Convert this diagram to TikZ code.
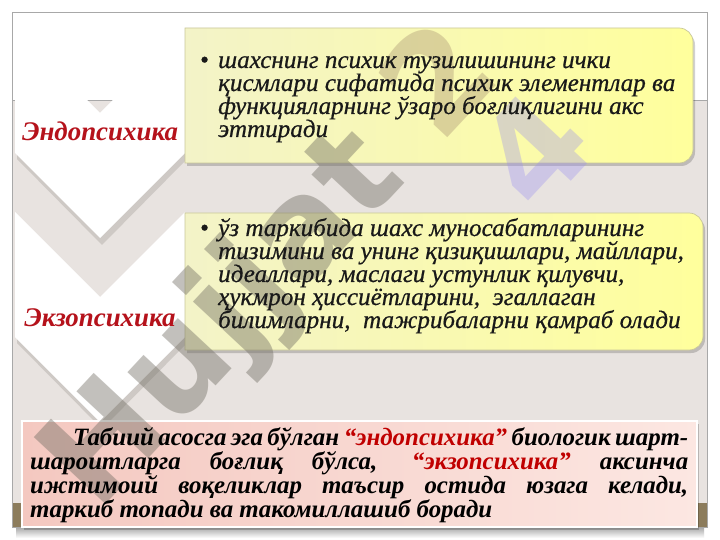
\documentclass[tikz,border=0pt]{standalone}
\usepackage{fontspec}
\setmainfont{Liberation Serif}
\newfontfamily\boxfont[FakeBold=0.6]{Liberation Serif}
\newfontfamily\wmfont{DejaVu Sans}
\usetikzlibrary{shadings}
\definecolor{bggray}{HTML}{E8E3E0}
\definecolor{framegray}{HTML}{A8A8A8}
\definecolor{brownbar}{HTML}{8C7C5C}
\definecolor{lblred}{HTML}{B5121B}
\definecolor{txtred}{HTML}{C00000}
\definecolor{boxleft}{HTML}{F3F3C8}
\definecolor{boxright}{HTML}{FFFF9C}
\definecolor{boxedge}{HTML}{C9C79A}
\definecolor{pinkleft}{HTML}{F4C8C0}
\definecolor{pinkright}{HTML}{FCE7E2}
\definecolor{chevshadow}{HTML}{BDB8B4}
\definecolor{wmgray}{HTML}{6E6A60}
\definecolor{wmtan}{HTML}{B09C78}
\definecolor{wmlav}{HTML}{9C90F0}
\tikzset{
  chev/.style={fill=white, draw=none},
  chevsh/.style={fill=chevshadow, draw=none, opacity=0.6},
  ybox/.style={left color=boxleft, right color=boxright, draw=boxedge, line width=0.7bp},
  yboxsh/.style={fill=black, opacity=0.18, draw=none},
  pbox/.style={left color=pinkleft, right color=pinkright, draw=white, line width=2bp},
  lbl/.style={font=\fontsize{27}{27}\selectfont\bfseries\itshape, text=lblred, inner sep=0},
  btxt/.style={font=\boxfont\fontsize{25.2}{23}\selectfont\itshape, text=black!90, anchor=base west, inner sep=0},
  ptxt/.style={font=\fontsize{25}{24}\selectfont\bfseries\itshape, anchor=base west, inner sep=0},
  wm/.style={font=\wmfont\bfseries\fontsize{135}{135}\selectfont, text=wmgray, opacity=0.42, inner sep=0},
}
\begin{document}
\begin{tikzpicture}[x=1bp,y=-1bp]
\useasboundingbox (0,0) rectangle (720,540);
\fill[white] (0,0) rectangle (720,540);
% frame and background
\shade[top color=black!35, bottom color=white] (16,527) rectangle (704,538);
\fill[bggray] (12,100) rectangle (707,527);
\fill[brownbar] (12,503) rectangle (707,527);
\draw[framegray, line width=0.8bp] (12,12) rectangle (707,527);
\draw[framegray, line width=0.8bp] (12,100) -- (707,100);
% chevron shadows
\fill[chevsh] (17,34) -- (102,119) -- (187,34) -- (187,159) -- (102,245) -- (17,159) -- cycle;
\fill[chevsh] (17,218) -- (102,303) -- (187,218) -- (187,343) -- (102,429) -- (17,343) -- cycle;
% chevrons
\fill[chev] (15,28) -- (100,113) -- (185,28) -- (185,153) -- (100,238) -- (15,153) -- cycle;
\fill[chev] (15,212) -- (100,297) -- (185,212) -- (185,337) -- (100,422) -- (15,337) -- cycle;
% yellow boxes
\fill[yboxsh] (187,31) -- (681,31) arc[start angle=270, end angle=360, radius=14] -- (695,152) arc[start angle=0, end angle=90, radius=14] -- (187,166) -- cycle;
\path[ybox] (185,28) -- (679,28) arc[start angle=270, end angle=360, radius=14] -- (693,149) arc[start angle=0, end angle=90, radius=14] -- (185,163) -- cycle;
\fill[yboxsh] (187,216) -- (691,216) arc[start angle=270, end angle=360, radius=14] -- (705,339) arc[start angle=0, end angle=90, radius=14] -- (187,353) -- cycle;
\path[ybox] (185,213) -- (689,213) arc[start angle=270, end angle=360, radius=14] -- (703,336) arc[start angle=0, end angle=90, radius=14] -- (185,350) -- cycle;
% pink box
\fill[black, opacity=0.2] (24,424) rectangle (699,530);
\path[pbox] (22,421) rectangle (697,527);
% watermark
\node[wm, rotate=47] (wmark) at (306,236) {Hujjat \textcolor{wmtan}{2}\phantom{4}};
\node[wm, rotate=47, text=wmlav, opacity=0.35] (wmfour) at (534,150) {4};
% labels
\node[lbl] (endo) at (100,131) {Эндопсихика};
\node[lbl] (exo) at (100,318) {Экзопсихика};
% box 1 text
\node[btxt] (b1) at (200,68) {\upshape •};
\node[btxt] (t11) at (218,68) {шахснинг психик тузилишининг ички};
\node[btxt] (t12) at (218,91) {қисмлари сифатида психик элементлар ва};
\node[btxt] (t13) at (218,114) {функцияларнинг ўзаро боғлиқлигини акс};
\node[btxt] (t14) at (218,137) {эттиради};
% box 2 text
\node[btxt] (b2) at (200,236) {\upshape •};
\node[btxt] (t21) at (218,236) {ўз таркибида шахс муносабатларининг};
\node[btxt] (t22) at (218,259) {тизимини ва унинг қизиқишлари, майллари,};
\node[btxt] (t23) at (218,282) {идеаллари, маслаги устунлик қилувчи,};
\node[btxt] (t24) at (218,305) {ҳукмрон ҳиссиётларини,\ \ эгаллаган};
\node[btxt] (t25) at (218,328) {билимларни,\ \ тажрибаларни қамраб олади};
% bottom text
\node[ptxt] (p1) at (73,445) {\makebox[615bp][s]{Табиий асосга эга бўлган \textcolor{txtred}{“эндопсихика”} биологик шарт-}};
\node[ptxt] (p2) at (30,469) {\makebox[658bp][s]{шароитларга боғлиқ бўлса, \textcolor{txtred}{“экзопсихика”} аксинча}};
\node[ptxt] (p3) at (30,493) {\makebox[658bp][s]{ижтимоий воқеликлар таъсир остида юзага келади,}};
\node[ptxt] (p4) at (30,517) {таркиб топади ва такомиллашиб боради};
\end{tikzpicture}
\end{document}
